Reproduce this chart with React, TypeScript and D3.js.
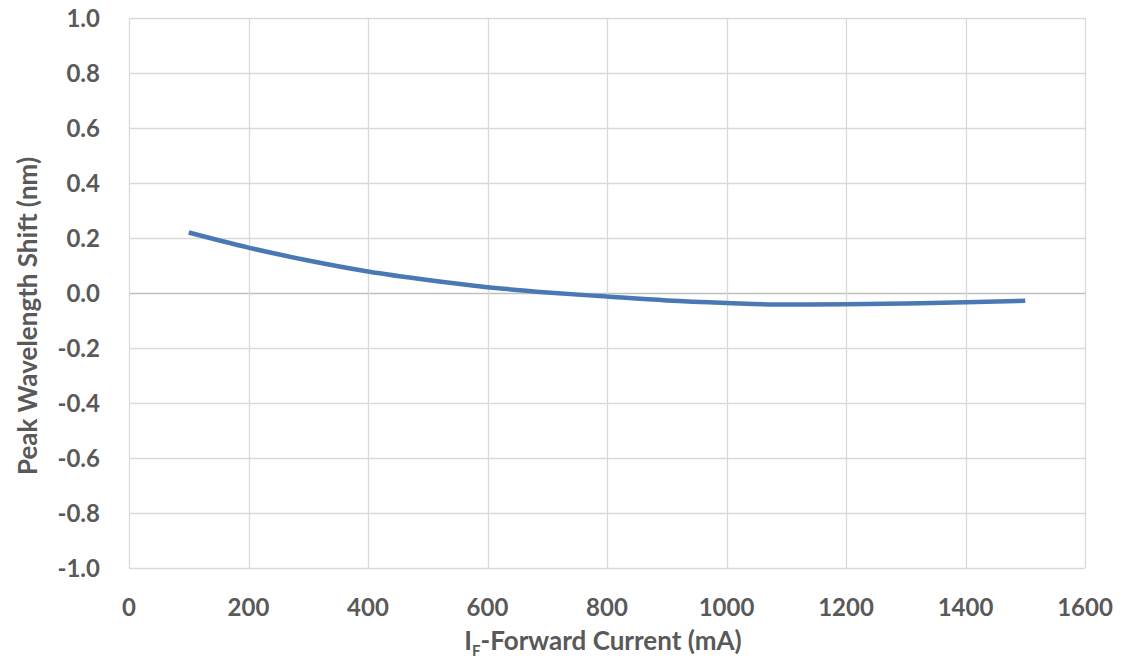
import * as d3 from "d3";
import { useEffect, useRef } from "react";

// forward current (mA) and peak wavelength shift (nm)
const currents = [100, 200, 300, 400, 500, 600, 700, 800, 900, 1000, 1100, 1200, 1300, 1400, 1500];
const shifts = [0.22, 0.165, 0.118, 0.078, 0.047, 0.021, 0.002, -0.013, -0.027, -0.036, -0.042, -0.041, -0.038, -0.034, -0.028];

const xTicks = [0, 200, 400, 600, 800, 1000, 1200, 1400, 1600];
const yTicks = [-1.0, -0.8, -0.6, -0.4, -0.2, 0.0, 0.2, 0.4, 0.6, 0.8, 1.0];

const xTitle = "Forward Current (mA)";
const yTitle = "Peak Wavelength Shift (nm)";

const W = 1122;
const H = 669;
const FONT = "Lato, 'Open Sans', sans-serif";
const TEXT = "#595959";

export default function App() {
  const ref = useRef<SVGSVGElement>(null);

  useEffect(() => {
    if (!ref.current) return;
    const svg = d3.select(ref.current);
    svg.selectAll("*").remove();

    const margin = { top: 18, right: 37, bottom: 101, left: 129 };
    const width = W - margin.left - margin.right;
    const height = H - margin.top - margin.bottom;

    const x = d3.scaleLinear().domain([0, 1600]).range([0, width]);
    const y = d3.scaleLinear().domain([-1, 1]).range([height, 0]);

    const g = svg.append("g").attr("transform", `translate(${margin.left},${margin.top})`);

    // grid
    g.selectAll("line.h")
      .data(yTicks)
      .enter()
      .append("line")
      .attr("class", "h")
      .attr("x1", 0)
      .attr("x2", width)
      .attr("y1", d => Math.round(y(d)) + 0.5)
      .attr("y2", d => Math.round(y(d)) + 0.5)
      .attr("stroke", d => (d === 0 ? "#bfbfbf" : "#d9d9d9"))
      .attr("stroke-width", 1.3);

    g.selectAll("line.v")
      .data(xTicks)
      .enter()
      .append("line")
      .attr("class", "v")
      .attr("y1", 0)
      .attr("y2", height)
      .attr("x1", d => Math.round(x(d)) + 0.5)
      .attr("x2", d => Math.round(x(d)) + 0.5)
      .attr("stroke", "#d9d9d9")
      .attr("stroke-width", 1.3);

    // tick labels
    g.selectAll("text.yt")
      .data(yTicks)
      .enter()
      .append("text")
      .attr("class", "yt")
      .attr("x", -29)
      .attr("y", d => y(d))
      .attr("dy", "0.36em")
      .attr("text-anchor", "end")
      .attr("font-family", FONT)
      .attr("font-weight", "bold")
      .attr("font-size", 24)
      .attr("fill", TEXT)
      .text(d => d3.format(".1f")(d).replace("−", "-"));

    g.selectAll("text.xt")
      .data(xTicks)
      .enter()
      .append("text")
      .attr("class", "xt")
      .attr("x", d => x(d))
      .attr("y", height + 48)
      .attr("text-anchor", "middle")
      .attr("font-family", FONT)
      .attr("font-weight", "bold")
      .attr("font-size", 24)
      .attr("fill", TEXT)
      .text(d => String(d));

    // line
    const pts = currents.map((c, i) => [c, shifts[i]] as [number, number]);
    const line = d3
      .line<[number, number]>()
      .x(d => x(d[0]))
      .y(d => y(d[1]))
      .curve(d3.curveMonotoneX);

    g.append("path")
      .datum(pts)
      .attr("fill", "none")
      .attr("stroke", "#4a78b5")
      .attr("stroke-width", 4.5)
      .attr("stroke-linecap", "butt")
      .attr("d", line);

    // axis titles
    const xt = svg
      .append("text")
      .attr("x", margin.left + width / 2 - 4)
      .attr("y", 650)
      .attr("text-anchor", "middle")
      .attr("font-family", FONT)
      .attr("font-weight", "bold")
      .attr("font-size", 26)
      .attr("fill", TEXT);
    xt.append("tspan").text("I");
    xt.append("tspan").attr("font-size", 15).attr("dy", 6).text("F");
    xt.append("tspan").attr("dy", -6).text("-" + xTitle);

    svg
      .append("text")
      .attr("transform", "translate(37,316) rotate(-90)")
      .attr("text-anchor", "middle")
      .attr("font-family", FONT)
      .attr("font-weight", "bold")
      .attr("font-size", 26)
      .attr("fill", TEXT)
      .text(yTitle);
  }, []);

  return (
    <svg
      ref={ref}
      width={W}
      height={H}
      style={{ position: "absolute", left: 0, top: 0, background: "#fff", display: "block" }}
    />
  );
}
